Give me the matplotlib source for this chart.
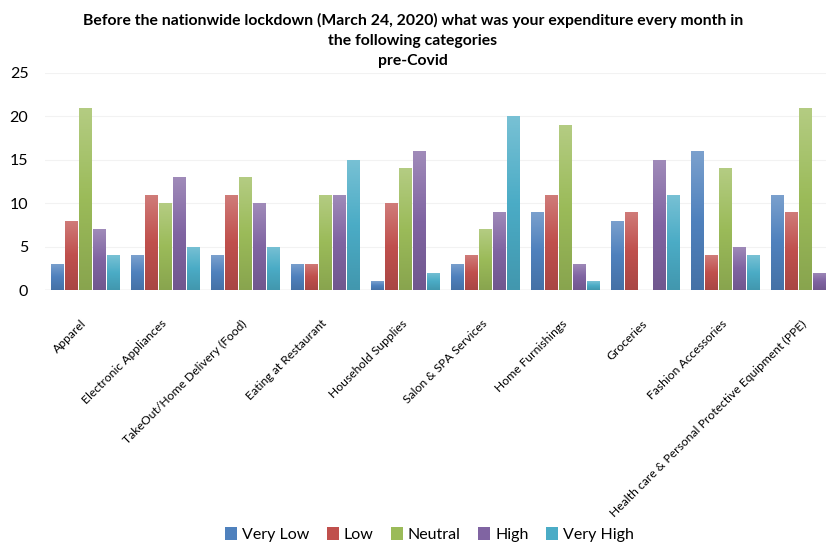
import numpy as np
import matplotlib
matplotlib.use("Agg")
import matplotlib.pyplot as plt
from matplotlib.colors import LinearSegmentedColormap, to_rgb

plt.rcParams['font.family'] = ['Lato', 'DejaVu Sans']

categories = ["Apparel", "Electronic Appliances", "TakeOut/Home Delivery (Food)",
              "Eating at Restaurant", "Household Supplies", "Salon & SPA Services",
              "Home Furnishings", "Groceries", "Fashion Accessories",
              "Health care & Personal Protective Equipment (PPE)"]
series_names = ["Very Low", "Low", "Neutral", "High", "Very High"]
very_low  = [3, 4, 4, 3, 1, 3, 9, 8, 16, 11]
low       = [8, 11, 11, 3, 10, 4, 11, 9, 4, 9]
neutral   = [21, 10, 13, 11, 14, 7, 19, 0, 14, 21]
high      = [7, 13, 10, 11, 16, 9, 3, 15, 5, 2]
very_high = [4, 5, 5, 15, 2, 20, 1, 11, 4, 0]
series = [very_low, low, neutral, high, very_high]
colors = ["#4f81bd", "#c0504d", "#9bbb59", "#8064a2", "#4bacc6"]
title = ("Before the nationwide lockdown (March 24, 2020) what was your expenditure every month in\n"
         "the following categories\npre-Covid")

fig = plt.figure(figsize=(8.26, 5.44), dpi=100)
ax = fig.add_axes([45/826, 254/544, 1 - 45/826, (471-254)/544])

x = np.arange(len(categories))
pitch = 0.175
width = 0.16

def lighten(c, f):
    r = np.array(to_rgb(c))
    return tuple(r + (1 - r) * f)

def darken(c, f):
    r = np.array(to_rgb(c))
    return tuple(r * (1 - f))

for i, (vals, c) in enumerate(zip(series, colors)):
    pos = x + (i - 2) * pitch
    bars = ax.bar(pos, vals, width, color=c, label=series_names[i], zorder=3)
    cmap = LinearSegmentedColormap.from_list("g", [darken(c, 0.12), c, lighten(c, 0.25)])
    grad = np.linspace(0, 1, 100).reshape(-1, 1)
    for b in bars:
        h = b.get_height()
        if h <= 0:
            continue
        im = ax.imshow(grad, extent=(b.get_x(), b.get_x() + b.get_width(), 0, h),
                       origin='lower', cmap=cmap, aspect='auto', zorder=3.5)
        im.set_clip_path(b)

ax.set_xlim(-0.5, (826 - 85) / 80)
ax.set_ylim(0, 25)
ax.set_yticks([0, 5, 10, 15, 20, 25])
ax.yaxis.grid(True, color="#f2f2f2", linewidth=0.8, zorder=0)
ax.set_axisbelow(True)
for s in ax.spines.values():
    s.set_visible(False)
ax.axhline(0, color="#d9d9d9", linewidth=1, zorder=2)
ax.tick_params(axis='both', length=0, labelsize=11.5)
ax.tick_params(axis='y', pad=12)
ax.set_xticks(x)
ax.set_xticklabels(categories, rotation=45, ha='right', va='center',
                   rotation_mode='anchor', fontsize=8.7)
ax.tick_params(axis='x', pad=23)

fig.text(0.5, 0.976, title, ha='center', va='top', fontsize=11.35, fontweight='bold',
         linespacing=1.55)

fig.legend(loc='lower center', bbox_to_anchor=(0.52, -0.023), ncol=5, frameon=False,
           fontsize=11.5, handlelength=0.75, handleheight=0.9, handletextpad=0.3,
           columnspacing=1.1)

fig.savefig("out.png", dpi=100)
